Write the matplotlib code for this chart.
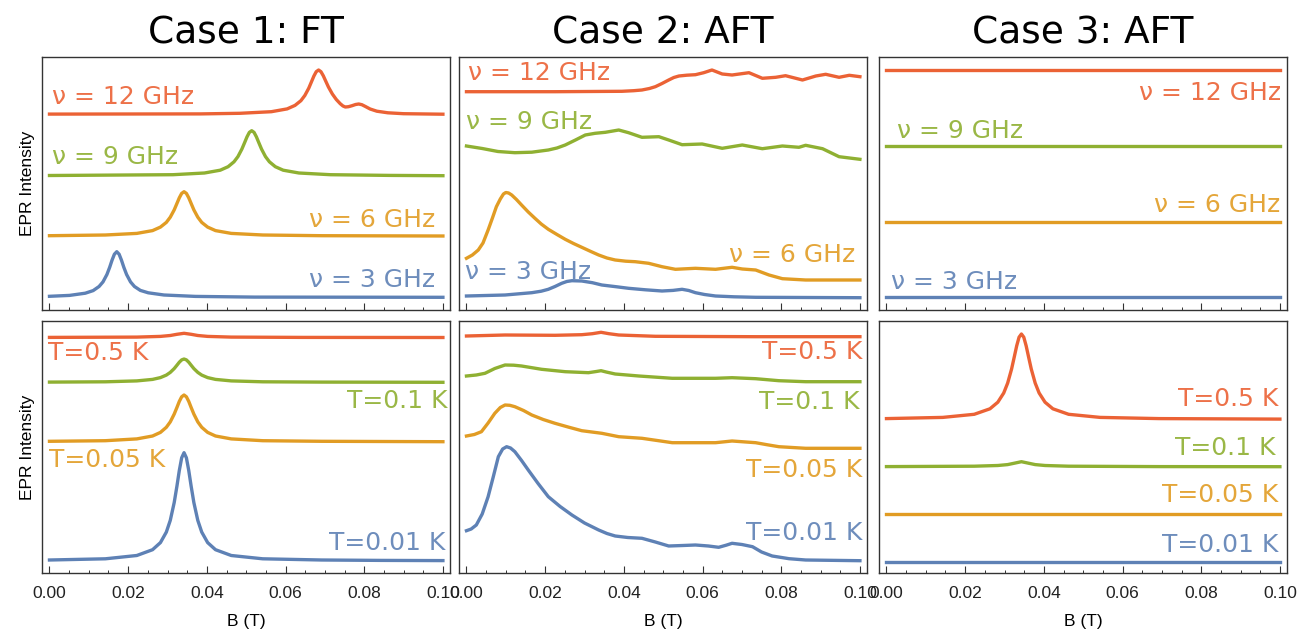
import numpy as np
import matplotlib.pyplot as plt
from matplotlib.ticker import MultipleLocator

plt.rcParams['font.family'] = ['DejaVu Sans']

blue = '#5E81B5'
orange = '#E19C24'
green = '#8FB032'
red = '#EB6235'

titles = ['Case 1: FT', 'Case 2: AFT', 'Case 3: AFT']
freq_labels = ['ν = 3 GHz', 'ν = 6 GHz', 'ν = 9 GHz', 'ν = 12 GHz']
temp_labels = ['T=0.01 K', 'T=0.05 K', 'T=0.1 K', 'T=0.5 K']

##### Case 1, frequency #####
c1f_b3 = [0, 0.0051, 0.0091, 0.0111, 0.0126, 0.0136, 0.0146, 0.0153, 0.0159, 0.0165, 0.0171, 0.0177, 0.0183,
          0.0189, 0.0196, 0.0206, 0.0216, 0.0231, 0.0251, 0.0291, 0.0371, 0.0521, 0.1]
c1f_i3 = [13.7, 14.6, 16.8, 19.4, 23.5, 28.1, 35.5, 42.7, 49.8, 55.8, 58.3, 55.8, 49.8, 42.7, 35.5, 28.1, 23.5,
          19.6, 17.2, 15.0, 13.6, 12.9, 12.7]
c1f_b6 = [0, 0.0142, 0.0222, 0.0262, 0.0282, 0.0297, 0.0307, 0.0317, 0.0324, 0.0330, 0.0336, 0.0342, 0.0348,
          0.0354, 0.0360, 0.0367, 0.0377, 0.0387, 0.0402, 0.0422, 0.0462, 0.0542, 0.0692, 0.1]
c1f_i6 = [74.3, 75.0, 76.6, 79.4, 82.9, 87.6, 92.8, 100.1, 106.6, 112.2, 116.6, 118.3, 116.6, 112.2, 106.6, 100.1,
          92.8, 87.6, 82.9, 79.4, 76.6, 75.0, 74.3, 74]
c1f_b9 = [0, 0.0314, 0.0394, 0.0434, 0.0454, 0.0469, 0.0479, 0.0489, 0.0496, 0.0502, 0.0508, 0.0514, 0.0520,
          0.0526, 0.0532, 0.0539, 0.0549, 0.0559, 0.0574, 0.0594, 0.0634, 0.0714, 0.0864, 0.1]
c1f_i9 = [134.5, 135.3, 137.0, 139.8, 143.3, 148.2, 153.4, 160.9, 167.4, 173.1, 177.6, 179.3, 177.6, 173.1, 167.4,
          160.9, 153.4, 148.2, 143.3, 139.8, 137.0, 135.3, 134.6, 134.3]
c1f_b12 = [0, 0.0384, 0.0484, 0.0564, 0.0604, 0.0624, 0.0639, 0.0649, 0.0659, 0.0666, 0.0672, 0.0678, 0.0684,
           0.0690, 0.0696, 0.0702, 0.0709, 0.0719, 0.0729, 0.0739, 0.0746, 0.0752, 0.0760, 0.0769, 0.0778,
           0.0786, 0.0794, 0.0803, 0.0815, 0.0832, 0.0860, 0.0900, 0.1]
c1f_i12 = [195.9, 196.1, 196.7, 198.3, 201.1, 204.6, 209.3, 214.5, 221.8, 228.3, 233.9, 238.3, 240, 238.3, 234.2,
           229, 223, 216, 210.5, 206.3, 204, 203, 203.3, 204.3, 205.5, 206, 205.3, 203.5, 201, 198.8, 197.2,
           196.3, 195.8]

##### Case 2, frequency #####
c2f_b3 = [0, 0.0098, 0.0166, 0.0190, 0.0208, 0.0225, 0.0242, 0.0255, 0.0268, 0.0293, 0.0320, 0.0344, 0.0380,
          0.0412, 0.0455, 0.0497, 0.0525, 0.0548, 0.0565, 0.0582, 0.0605, 0.0633, 0.0680, 0.0735, 0.1]
c2f_i3 = [14, 15, 17.3, 18.8, 20.7, 23.5, 26.7, 28.5, 29.3, 29, 27.3, 25, 23.3, 21.7, 20.2, 19, 19.6, 20.7, 19.5,
          17.3, 15.5, 14, 13.2, 12.7, 12.3]
c2f_b6 = [0, 0.0015, 0.0030, 0.0042, 0.0055, 0.0066, 0.0076, 0.0086, 0.0094, 0.0100, 0.0107, 0.0115, 0.0127,
          0.0140, 0.0157, 0.0174, 0.0190, 0.0208, 0.0230, 0.0251, 0.0272, 0.0293, 0.0315, 0.0336, 0.0357, 0.0378,
          0.0405, 0.0429, 0.0463, 0.0497, 0.0531, 0.0582, 0.0633, 0.0675, 0.0701, 0.0735, 0.0769, 0.0803,
          0.0862, 0.1]
c2f_i6 = [51.7, 55, 60, 67, 80, 92, 103.3, 111, 116, 117.5, 117, 115, 110.5, 105, 98, 91.7, 86, 80.7, 75.5, 70.7,
          66.5, 62.7, 58.7, 55, 52, 50, 48.8, 48.3, 46.7, 43.3, 40.7, 41.7, 40.7, 42.7, 41, 40, 35, 31.3, 30, 30]
c2f_b9 = [0, 0.0040, 0.0080, 0.0123, 0.0166, 0.0208, 0.0230, 0.0251, 0.0277, 0.0302, 0.0327, 0.0353, 0.0387,
          0.0412, 0.0446, 0.0489, 0.0514, 0.0548, 0.0599, 0.0650, 0.0701, 0.0752, 0.0803, 0.0845, 0.0862,
          0.0905, 0.0947, 0.1]
c2f_i9 = [164, 161.5, 158.5, 157.3, 157.8, 160, 162, 165, 170, 175, 176.7, 177.7, 180, 177.3, 172.7, 173.3, 170,
          165.3, 166, 161.7, 165, 161.3, 164, 162.7, 164.7, 161.3, 153.3, 150.7]
c2f_b12 = [0, 0.0225, 0.0395, 0.0425, 0.0446, 0.0465, 0.0480, 0.0497, 0.0514, 0.0527, 0.0540, 0.0560, 0.0582,
           0.0603, 0.0624, 0.0650, 0.0675, 0.0718, 0.0752, 0.0786, 0.0811, 0.0854, 0.0888, 0.0913, 0.0947,
           0.0973, 0.1]
c2f_i12 = [218.3, 218.3, 218.7, 219.3, 220, 221.5, 223.3, 226.5, 230, 232.5, 234, 234.8, 235.3, 237.3, 240, 236,
           235, 237.3, 231.7, 232.7, 234.3, 230, 234, 235.7, 232.7, 234.7, 233.3]

##### Case 3, frequency #####
c3f_b = [0, 0.1]
c3f_i3 = [12.7, 12.7]
c3f_i6 = [88.3, 88.3]
c3f_i9 = [164, 164]
c3f_i12 = [240, 240]

##### Case 1, temperature #####
c1t_b001 = [0, 0.0142, 0.0222, 0.0262, 0.0282, 0.0297, 0.0307, 0.0317, 0.0324, 0.0330, 0.0336, 0.0342, 0.0348,
            0.0354, 0.0360, 0.0367, 0.0377, 0.0387, 0.0402, 0.0422, 0.0462, 0.0542, 0.0692, 0.0842, 0.1]
c1t_i001 = [13.0, 14.2, 17.5, 23.3, 30.4, 40.9, 52.6, 70.4, 87.0, 102.5, 115.2, 120.3, 115.2, 102.5, 87.0, 70.4,
            52.6, 40.9, 30.4, 23.3, 17.5, 14.2, 13.0, 12.6, 12.4]
c1t_b005 = [0, 0.0142, 0.0222, 0.0262, 0.0282, 0.0297, 0.0307, 0.0317, 0.0324, 0.0330, 0.0336, 0.0342, 0.0348,
            0.0354, 0.0360, 0.0367, 0.0377, 0.0387, 0.0402, 0.0422, 0.0462, 0.0542, 0.0692, 0.1]
c1t_i005 = [131.7, 132.3, 134.1, 137.0, 140.6, 145.7, 151.1, 158.9, 165.6, 171.6, 176.2, 178, 176.2, 171.6, 165.6,
            158.9, 151.1, 145.7, 140.6, 137.0, 134.1, 132.3, 131.7, 131.3]
c1t_b01 = [0, 0.0142, 0.0222, 0.0262, 0.0282, 0.0297, 0.0307, 0.0317, 0.0324, 0.0330, 0.0336, 0.0342, 0.0348,
           0.0354, 0.0360, 0.0367, 0.0377, 0.0387, 0.0402, 0.0422, 0.0462, 0.0542, 0.0692, 0.1]
c1t_i01 = [190.9, 191.2, 192.1, 193.6, 195.4, 197.9, 200.6, 204.4, 207.8, 210.8, 213.1, 214, 213.1, 210.8, 207.8,
           204.4, 200.6, 197.9, 195.4, 193.6, 192.1, 191.2, 190.9, 190.7]
c1t_b05 = [0, 0.0222, 0.0282, 0.0307, 0.0324, 0.0342, 0.0360, 0.0377, 0.0402, 0.0462, 0.0642, 0.1]
c1t_i05 = [235.6, 235.9, 236.6, 237.5, 238.7, 239.7, 238.7, 237.5, 236.6, 235.9, 235.6, 235.5]

##### Case 2, temperature #####
c2t_b001 = [0, 0.0012, 0.0025, 0.0040, 0.0055, 0.0068, 0.0081, 0.0092, 0.0102, 0.0112, 0.0123, 0.0140, 0.0157,
            0.0182, 0.0208, 0.0238, 0.0268, 0.0300, 0.0336, 0.0357, 0.0378, 0.0410, 0.0446, 0.0480, 0.0514,
            0.0550, 0.0582, 0.0615, 0.0641, 0.0660, 0.0675, 0.0700, 0.0727, 0.0750, 0.0777, 0.0820, 0.0862, 0.1]
c2t_i001 = [42.3, 44, 48, 59, 76.3, 96, 116.3, 124, 126.3, 125, 121.3, 112.5, 103, 89.5, 76.3, 66.5, 58, 50, 43,
            39.5, 37, 35.5, 34.7, 31, 27, 27.5, 28, 27, 25.7, 27.8, 29.7, 28.5, 26.3, 21, 17, 14.3, 13, 12.3]
c2t_b005 = [0, 0.0020, 0.0038, 0.0055, 0.0072, 0.0086, 0.0098, 0.0110, 0.0123, 0.0145, 0.0166, 0.0195, 0.0225,
            0.0260, 0.0293, 0.0344, 0.0387, 0.0446, 0.0490, 0.0523, 0.0633, 0.0675, 0.0735, 0.0765, 0.0794,
            0.0862, 0.1]
c2t_i005 = [137, 138.5, 141.3, 150, 159.7, 165.5, 168, 167.7, 166.3, 162.5, 158, 153.5, 149.7, 145.8, 142.3, 139.7,
            136.3, 134.7, 132.2, 130.3, 130.3, 132, 130.3, 128.2, 126.3, 124.7, 124.7]
c2t_b01 = [0, 0.0025, 0.0047, 0.0072, 0.0098, 0.0120, 0.0140, 0.0191, 0.0251, 0.0310, 0.0330, 0.0342, 0.0355,
           0.0378, 0.0438, 0.0523, 0.0633, 0.0675, 0.0735, 0.0794, 0.0862, 0.1]
c2t_i01 = [197, 198, 199.7, 204.5, 208, 207.8, 207, 203.7, 201.3, 200.3, 201.5, 202.3, 201, 199, 197, 194.7,
           194.7, 195.3, 194.3, 192.3, 191.3, 191.3]
c2t_b05 = [0, 0.0098, 0.0225, 0.0293, 0.0320, 0.0342, 0.0362, 0.0387, 0.0480, 0.0735, 0.1]
c2t_i05 = [237, 238, 237.7, 238.3, 239.3, 240.7, 239.3, 238, 236.7, 236.3, 236.3]

##### Case 3, temperature #####
c3t_b001 = [0, 0.1]
c3t_i001 = [11.3, 11.3]
c3t_b005 = [0, 0.1]
c3t_i005 = [59, 59]
c3t_b01 = [0, 0.0223, 0.0283, 0.0308, 0.0325, 0.0343, 0.0361, 0.0378, 0.0403, 0.0463, 0.0693, 0.1]
c3t_i01 = [106.4, 106.8, 107.5, 108.4, 109.8, 111.3, 109.8, 108.4, 107.5, 106.8, 106.4, 106.3]
c3t_b05 = [0, 0.0143, 0.0223, 0.0263, 0.0283, 0.0298, 0.0308, 0.0318, 0.0325, 0.0331, 0.0337, 0.0343, 0.0349,
           0.0355, 0.0361, 0.0368, 0.0378, 0.0388, 0.0403, 0.0423, 0.0463, 0.0543, 0.0693, 0.1]
c3t_i05 = [154.4, 155.6, 158.7, 164.2, 170.8, 180.0, 189.9, 204.0, 216.4, 227.2, 235.8, 239, 235.8, 227.2, 216.4,
           204.0, 189.9, 180.0, 170.8, 164.2, 158.7, 155.6, 154.4, 153.9]

fig = plt.figure(figsize=(12.99, 6.32), dpi=100)

lefts = [42 / 1299, 459 / 1299, 879 / 1299]
w = 408 / 1299
top_row = (1 - 310 / 632, 253 / 632)
bot_row = (1 - 573 / 632, 252 / 632)

cols = [blue, orange, green, red]

top_data = [
    [(c1f_b3, c1f_i3), (c1f_b6, c1f_i6), (c1f_b9, c1f_i9), (c1f_b12, c1f_i12)],
    [(c2f_b3, c2f_i3), (c2f_b6, c2f_i6), (c2f_b9, c2f_i9), (c2f_b12, c2f_i12)],
    [(c3f_b, c3f_i3), (c3f_b, c3f_i6), (c3f_b, c3f_i9), (c3f_b, c3f_i12)],
]
bot_data = [
    [(c1t_b001, c1t_i001), (c1t_b005, c1t_i005), (c1t_b01, c1t_i01), (c1t_b05, c1t_i05)],
    [(c2t_b001, c2t_i001), (c2t_b005, c2t_i005), (c2t_b01, c2t_i01), (c2t_b05, c2t_i05)],
    [(c3t_b001, c3t_i001), (c3t_b005, c3t_i005), (c3t_b01, c3t_i01), (c3t_b05, c3t_i05)],
]

# label placement: (x, y, ha) for each curve, per panel
top_pos = [
    [(0.0981, 30, 'right'), (0.0981, 90, 'right'), (0.0006, 153.3, 'left'), (0.0006, 213, 'left')],
    [(-0.0004, 38.3, 'left'), (0.0989, 55, 'right'), (0.0000, 188.3, 'left'), (0.0003, 236.7, 'left')],
    [(0.0012, 28.3, 'left'), (0.1002, 105, 'right'), (0.0027, 179.3, 'left'), (0.1002, 216.7, 'right')],
]
bot_pos = [
    [(0.1006, 29.7, 'right'), (-0.0001, 113, 'left'), (0.1012, 172.3, 'right'), (-0.0003, 219.7, 'left')],
    [(0.1006, 40.3, 'right'), (0.1006, 103, 'right'), (0.1000, 171.3, 'right'), (0.1006, 221.3, 'right')],
    [(0.0996, 28, 'right'), (0.0996, 78, 'right'), (0.0988, 124.7, 'right'), (0.0996, 173.7, 'right')],
]


def setup(ax, show_labels):
    ax.set_xlim(-0.0019, 0.1018)
    ax.set_yticks([])
    ax.xaxis.set_major_locator(MultipleLocator(0.02))
    ax.xaxis.set_minor_locator(MultipleLocator(0.005))
    ax.tick_params(axis='x', which='major', direction='in', length=5, width=0.8, color='#333333',
                   pad=9, labelsize=12.5, labelcolor='#222222')
    ax.tick_params(axis='x', which='minor', direction='in', length=2.5, width=0.7, color='#333333')
    for s in ax.spines.values():
        s.set_color('#333333')
        s.set_linewidth(1.0)
    for lab in ax.get_xticklabels():
        lab.set_family('Liberation Sans')
    if not show_labels:
        ax.set_xticklabels([])


for c in range(3):
    ax = fig.add_axes([lefts[c], top_row[0], w, top_row[1]])
    setup(ax, False)
    ax.set_ylim(0, 253)
    for k in range(4):
        b, i = top_data[c][k]
        ax.plot(b, i, color=cols[k], lw=2.4, solid_joinstyle='round')
        x, y, ha = top_pos[c][k]
        ax.text(x, y, freq_labels[k], color=cols[k], fontsize=18, ha=ha, va='center', alpha=0.9)
    ax.set_title(titles[c], fontsize=27, pad=10)
    if c == 0:
        ax.set_ylabel('EPR Intensity', fontsize=12.5, family='Liberation Sans', labelpad=5)

    ax = fig.add_axes([lefts[c], bot_row[0], w, bot_row[1]])
    setup(ax, True)
    ax.set_ylim(0, 252)
    for k in range(4):
        b, i = bot_data[c][k]
        ax.plot(b, i, color=cols[k], lw=2.4, solid_joinstyle='round')
        x, y, ha = bot_pos[c][k]
        ax.text(x, y, temp_labels[k], color=cols[k], fontsize=18, ha=ha, va='center', alpha=0.9)
    ax.set_xlabel('B (T)', fontsize=12.5, family='Liberation Sans', labelpad=10)
    if c == 0:
        ax.set_ylabel('EPR Intensity', fontsize=12.5, family='Liberation Sans', labelpad=5)

fig.savefig('out.png', dpi=100)
